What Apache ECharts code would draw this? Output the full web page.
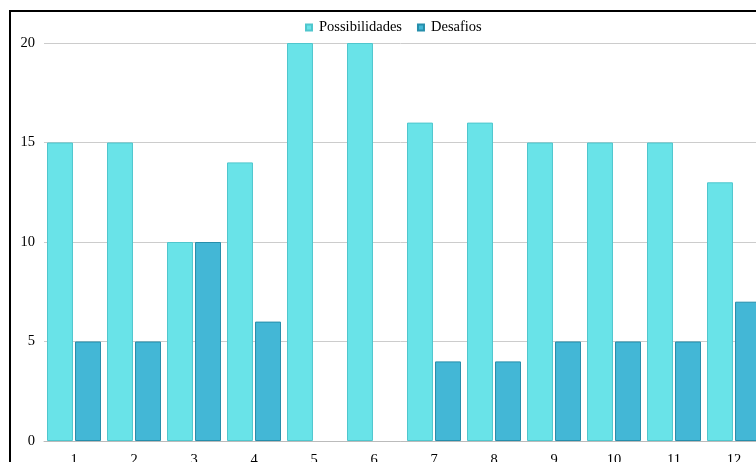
<!DOCTYPE html>
<html><head><meta charset="utf-8">
<script src="https://cdn.jsdelivr.net/npm/echarts@6/dist/echarts.min.js"></script>
<style>html,body{margin:0;padding:0;background:#fff}#c{width:756px;height:462px}</style>
</head><body><div id="c"></div>
<script>
const categories = ['1','2','3','4','5','6','7','8','9','10','11','12'];
const possibilidades = [15,15,10,14,20,20,16,16,15,15,15,13];
const desafios = [5,5,10,6,0,0,4,4,5,5,5,7];
const yTicks = [0,5,10,15,20];

const chart = echarts.init(document.getElementById('c'), null, {renderer:'canvas'});
const font = '"Liberation Serif", "Times New Roman", serif';
chart.setOption({
  animation:false,
  textStyle:{fontFamily:font},
  graphic:[{type:'rect', shape:{x:10,y:11,width:800,height:500}, style:{fill:'none',stroke:'#000',lineWidth:2}, z:100}],
  legend:{top:15, left:300, itemWidth:6, itemHeight:6, itemGap:15, icon:'rect',
    textStyle:{fontFamily:font, fontSize:14.5, color:'#000', padding:[0,0,0,2]},
    data:['Possibilidades','Desafios']},
  grid:{left:44, top:43, width:720, bottom:21, containLabel:false, outerBoundsMode:'none'},
  xAxis:{type:'category', data:categories, axisTick:{show:false},
    axisLine:{lineStyle:{color:'#bbb'}},
    axisLabel:{fontFamily:font, fontSize:14.5, color:'#000', margin:12}},
  yAxis:{type:'value', min:yTicks[0], max:yTicks[yTicks.length-1], interval:5,
    axisLine:{show:false}, axisTick:{show:false},
    splitLine:{lineStyle:{color:'#ccc'}},
    axisLabel:{fontFamily:font, fontSize:14.5, color:'#000', margin:9}},
  series:[
    {name:'Possibilidades', type:'bar', data:possibilidades, barGap:'8%', barCategoryGap:'10%',
      itemStyle:{color:'#69e3e8', borderColor:'#4fc6cd', borderWidth:1}},
    {name:'Desafios', type:'bar', data:desafios.map(v=>v===0?null:v),
      itemStyle:{color:'#43b7d6', borderColor:'#258eab', borderWidth:1}}
  ]
});
</script></body></html>
